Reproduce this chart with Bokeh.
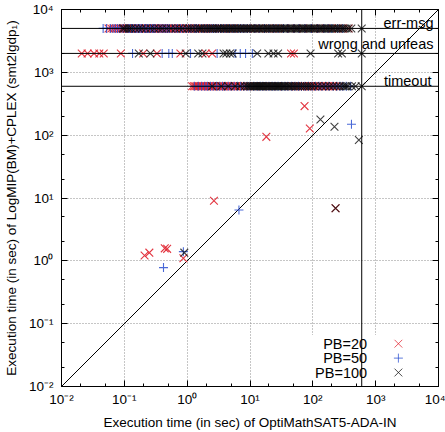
from bokeh.plotting import figure
from bokeh.models import Range1d, FixedTicker, LogAxis, Span, Label
from bokeh.embed import file_html
from bokeh.resources import INLINE

# ---- outcome levels on the y axis (seconds) ----
timeout_level = 600
wrong_level = 2000
errmsg_level = 5000

# ---- instances solved by both tools: (x = OptiMathSAT5, y = LogMIP) ----
pb20_x = [73.8, 89.5, 18.2, 2.67, 230, 0.21, 0.25, 0.44, 0.48, 0.87]
pb20_y = [290, 128, 94, 9.06, 6.86, 1.22, 1.35, 1.58, 1.55, 1.1]
pb50_x = [412, 6.67, 0.42, 0.87]
pb50_y = [149, 6.44, 0.78, 1.4]
pb100_x = [132, 221, 540, 230, 0.9]
pb100_y = [178, 136, 84, 6.86, 1.35]

# ---- instances where LogMIP ended with an error message ----
pb20_err = [0.056, 0.062, 0.067, 0.073, 0.078, 0.084, 0.09, 0.095, 0.1, 0.105,
            0.11, 0.115, 0.12, 0.125, 0.13, 0.135, 0.14, 0.145, 0.15, 0.16,
            0.165, 0.17, 0.18, 0.19, 0.2, 0.21, 0.22, 0.23, 0.24, 0.25, 0.26,
            0.27, 0.285, 0.3, 0.31, 0.32, 0.335, 0.35, 0.365, 0.38, 0.4, 0.41,
            0.43, 0.45, 0.47, 0.5, 0.52, 0.55, 0.58, 0.6, 0.63, 0.66, 0.7,
            0.72, 0.76, 0.8, 0.85, 0.9, 0.95, 1.0, 1.05, 1.1, 1.2, 1.25, 1.35,
            1.4, 1.5, 1.6, 1.7, 1.8, 1.95, 2.1, 2.3, 2.5, 2.7, 3.0, 3.3, 3.6,
            4.0, 4.5, 5.0, 5.5, 6.2, 7, 8, 9, 10.5, 12, 14, 16, 19, 22, 26, 30,
            36, 45, 55, 70, 85, 110, 130, 160, 200, 250, 300, 370]
pb50_err = [0.046, 0.052, 0.06, 0.066, 0.072, 0.078, 0.085, 0.095, 0.105,
            0.115, 0.12, 0.13, 0.135, 0.145, 0.155, 0.165, 0.175, 0.185, 0.19,
            0.21, 0.22, 0.235, 0.24, 0.26, 0.28, 0.295, 0.31, 0.34, 0.37, 0.4,
            0.43, 0.46, 0.49, 0.52, 0.58, 0.64, 0.7, 0.78, 0.85, 0.95, 1.05,
            1.15, 1.3, 1.4, 1.5, 1.7, 1.9, 2.1, 2.3, 2.55, 2.8, 3.1, 3.4, 3.8,
            4.2, 4.7, 5.2, 5.8, 6.5, 7.2, 8, 9, 10, 12, 14, 17, 20, 24, 28, 34,
            40, 50, 60, 75, 95, 120, 150, 175, 200, 250, 300]
pb100_err = [0.095, 0.1, 0.11, 0.12, 0.13, 0.15, 0.17, 0.19, 0.22, 0.26, 0.3,
             0.35, 0.4, 0.47, 0.55, 0.65, 0.75, 0.85, 1.0, 1.1, 1.2, 1.35, 1.5,
             1.6, 1.7, 1.85, 2.0, 2.15, 2.3, 2.45, 2.6, 2.8, 3.0, 3.15, 3.3,
             3.55, 3.8, 4.0, 4.2, 4.5, 4.8, 5.0, 5.3, 5.6, 6.0, 6.3, 6.7, 7.1,
             7.5, 8.0, 8.5, 9.0, 9.5, 10, 10.5, 11.2, 12, 12.8, 13.5, 14.2, 15,
             16, 17, 18, 19, 20, 21, 22.5, 24, 25.5, 27, 28.5, 30, 32, 34, 36,
             38, 40, 43, 45, 48, 51, 54, 57, 60, 64, 68, 72, 76, 80, 85, 90,
             95, 100, 105, 112, 120, 128, 135, 142, 150, 160, 170, 180, 190,
             205, 215, 230, 245, 260, 280, 300, 320, 345, 370, 410, 600]

# ---- instances where LogMIP gave a wrong result or claimed unfeasible ----
pb20_wrong = [0.021, 0.026, 0.033, 0.040, 0.047, 0.088, 0.2, 0.33, 0.78, 1.97,
              2.5, 45, 50]
pb50_wrong = [0.135, 0.4, 0.51, 0.58, 1.13, 3.0, 5.8, 7.0, 8.5, 10.9]
pb100_wrong = [0.17, 0.26, 0.95, 1.5, 1.75, 3.8, 4.2, 4.8, 5.3, 13, 19.6, 23.7,
               28, 92, 253, 290, 600]

# ---- instances where LogMIP hit the time limit ----
pb20_timeout = [1.2, 1.28, 1.35, 1.42, 1.5, 1.58, 1.65, 1.72, 1.8, 1.9, 2.0,
                2.1, 2.2, 2.3, 2.4, 2.52, 2.65, 2.78, 2.9, 3.05, 3.2, 3.35, 3.5,
                3.7, 3.9, 4.1, 4.3, 4.55, 4.8, 5.05, 5.3, 5.6, 6.0, 6.4, 6.8,
                7.2, 7.7, 8.3, 9, 10, 12, 14, 16, 19, 22, 28, 35, 42, 48, 52,
                55, 58, 62, 66, 70, 75, 80, 85, 90, 95, 100, 108, 115, 122, 130,
                140, 150, 162, 175, 188, 200, 215, 230, 260]
pb50_timeout = [1.3, 1.5, 1.7, 1.9, 2.1, 2.35, 2.6, 2.95, 3.3, 3.65, 4.0, 4.5,
                5.0, 5.6, 6.3, 7.1, 8, 9, 10, 11.5, 13, 14.5, 16, 18, 20, 22.5,
                25, 28, 32, 36, 40, 46, 52, 59, 66, 75, 85, 97, 110, 125, 140,
                160, 180, 210, 240, 270, 300, 340, 400]
pb100_timeout = [2.5, 3.5, 4.5, 5.8, 7, 8.2, 9.0, 9.5, 10, 10.5, 11, 11.5, 12,
                 12.5, 13, 13.5, 14, 14.5, 15, 15.5, 16.2, 17, 17.8, 18.5,
                 19.2, 20, 21, 22, 23, 24, 25, 26, 27, 28, 29, 30, 31.5, 33,
                 34.5, 36, 38, 40, 42, 44, 47, 50, 54, 58, 63, 68, 74, 80, 87,
                 95, 105, 120, 140, 160, 185, 210, 240, 270, 300, 320, 340, 360,
                 420, 480, 600]

# ---- axes ----
axis_lo, axis_hi = 1e-2, 1e4
major_ticks = [1e-2, 1e-1, 1e0, 1e1, 1e2, 1e3, 1e4]
major_labels = ["10\u207b\u00b2", "10\u207b\u00b9", "10\u2070", "10\u00b9",
                "10\u00b2", "10\u00b3", "10\u2074"]
minor_ticks = [d * m for d in major_ticks[:-1] for m in (2, 5)]
diagonal = [axis_lo, axis_hi]

series = [
    ("PB=20", "x", "#e0202c", 0.9,
     pb20_x, pb20_y, pb20_err, pb20_wrong, pb20_timeout),
    ("PB=50", "cross", "#2a4fd0", 0.85,
     pb50_x, pb50_y, pb50_err, pb50_wrong, pb50_timeout),
    ("PB=100", "x", "#101010", 0.8,
     pb100_x, pb100_y, pb100_err, pb100_wrong, pb100_timeout),
]
marker_size = {"x": 11, "cross": 9}

FONT = "Liberation Sans"

p = figure(width=445, height=432, x_axis_type="log", y_axis_type="log",
           x_range=Range1d(axis_lo, axis_hi), y_range=Range1d(axis_lo, axis_hi),
           output_backend="svg", toolbar_location=None,
           min_border_left=61, min_border_right=7, min_border_top=9,
           min_border_bottom=45)
p.outline_line_color = "black"
p.outline_line_width = 1
p.background_fill_color = "white"
p.border_fill_color = "white"


def make_ticker():
    return FixedTicker(ticks=major_ticks, minor_ticks=minor_ticks)


def style_axis(ax, labelled):
    ax.axis_line_color = "black"
    ax.major_tick_in = 6
    ax.major_tick_out = 0
    ax.minor_tick_in = 3
    ax.minor_tick_out = 0
    ax.major_tick_line_color = "black"
    ax.minor_tick_line_color = "black"
    if labelled:
        ax.major_label_overrides = dict(zip(major_ticks, major_labels))
        ax.major_label_text_font = FONT
        ax.major_label_text_font_size = "13.5px"
        ax.major_label_text_color = "black"
        ax.axis_label_text_font = FONT
        ax.axis_label_text_font_size = "13.5px"
        ax.axis_label_text_font_style = "normal"
        ax.axis_label_text_color = "black"
    else:
        ax.major_label_overrides = {t: "" for t in major_ticks}
        ax.major_label_text_font_size = "0px"
        ax.major_label_standoff = 0
        ax.axis_label_standoff = 0


xticker = make_ticker()
yticker = make_ticker()
xax = p.below[0]
yax = p.left[0]
xax.ticker = xticker
yax.ticker = yticker
style_axis(xax, True)
style_axis(yax, True)
xax.axis_label = "Execution time (in sec) of OptiMathSAT5-ADA-IN"
yax.axis_label = "Execution time (in sec) of LogMIP(BM)+CPLEX (smt2lgdp\u2081)"
xax.major_label_standoff = 5
xax.axis_label_standoff = 5
yax.major_label_standoff = 8
yax.axis_label_standoff = 7

top_ax = LogAxis(ticker=make_ticker())
right_ax = LogAxis(ticker=make_ticker())
style_axis(top_ax, False)
style_axis(right_ax, False)
p.add_layout(top_ax, "above")
p.add_layout(right_ax, "right")

p.xgrid.ticker = xticker
p.ygrid.ticker = yticker
for g in (p.xgrid, p.ygrid):
    g.grid_line_color = "#8c8c8c"
    g.grid_line_dash = "1 2"
    g.grid_line_width = 1

# white patch behind the key so grid lines do not run through it
p.quad(left=[90], right=[axis_hi], bottom=[axis_lo], top=[0.066],
       fill_color="white", line_color=None)

# diagonal y = x
p.line(diagonal, diagonal, line_color="black", line_width=1)

# outcome level lines and timeout limit
for lvl in (timeout_level, wrong_level, errmsg_level):
    p.add_layout(Span(location=lvl, dimension="width", line_color="black",
                      line_width=1))
p.add_layout(Span(location=timeout_level, dimension="height",
                  line_color="black", line_width=1))

for name, marker, color, alpha, xs, ys, err, wrong, tout in series:
    px = list(xs) + list(err) + list(wrong) + list(tout)
    py = (list(ys) + [errmsg_level] * len(err) + [wrong_level] * len(wrong)
          + [timeout_level] * len(tout))
    p.scatter(px, py, marker=marker, size=marker_size[marker],
              line_color=color, line_alpha=alpha, line_width=1.1)

# level captions
for txt, lvl, dx, dy in (("err-msg", errmsg_level, -5, 5),
                         ("wrong and unfeas", wrong_level, -5, 9),
                         ("timeout", timeout_level, -7, 5)):
    p.add_layout(Label(x=axis_hi, y=lvl, text=txt, text_align="right",
                       text_baseline="alphabetic", x_offset=dx, y_offset=dy,
                       text_font=FONT, text_font_size="14.5px",
                       text_color="black"))

# key: label on the left, marker on the right
key_text_x = 730
key_mark_x = 2300
key_rows = [0.048, 0.0283, 0.0167]
for (name, marker, color, alpha, *_), ky in zip(series, key_rows):
    p.add_layout(Label(x=key_text_x, y=ky, text=name, text_align="right",
                       text_baseline="middle", text_font=FONT,
                       text_font_size="14.5px", text_color="black"))
    p.scatter([key_mark_x], [ky], marker=marker, size=marker_size[marker],
              line_color=color, line_alpha=0.75, line_width=1)

open("out.html", "w").write(file_html(p, INLINE))
